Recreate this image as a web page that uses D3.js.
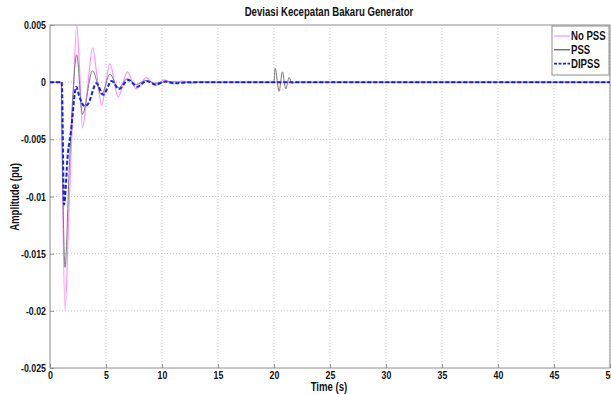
<!DOCTYPE html>
<html><head><meta charset="utf-8">
<script src="https://cdn.jsdelivr.net/npm/d3@7"></script>
<style>
html,body{margin:0;padding:0;background:#fff;}
svg{display:block;}
text{font-family:"Liberation Sans",Arial,sans-serif;font-weight:bold;fill:#111;}
</style></head>
<body><svg id="c" width="611" height="395"></svg>
<script>
const title = "Deviasi Kecepatan Bakaru Generator";
const xLabel = "Time (s)";
const yLabel = "Amplitude (pu)";
const xTicks = [0,5,10,15,20,25,30,35,40,45,50];
const yTicks = [0.005,0,-0.005,-0.01,-0.015,-0.02,-0.025];
const yTickLabels = ["0.005","0","-0.005","-0.01","-0.015","-0.02","-0.025"];
const seriesNames = ["No PSS","PSS","DIPSS"];

// No PSS (magenta)
const noPssT = [0,1.0,1.08,1.34,1.7,2.05,2.38,2.65,2.9,3.35,3.8,4.2,4.6,5.35,6.1,6.9,7.7,8.6,9.4,10.2,11.0,11.8,12.6,13.5,14.5,50];
const noPssV = [0,0,-0.006,-0.0200,-0.011,-0.002,0.0050,0.001,-0.0040,-0.0005,0.0030,0.0005,-0.0020,0.0016,-0.0013,0.0009,-0.0006,0.0004,-0.0003,0.0002,-0.00015,0.0001,-0.0001,0.00005,0,0];

// PSS (gray)
const pssT = [0,1.0,1.08,1.34,1.7,2.05,2.38,2.9,3.8,4.6,5.35,6.1,6.9,7.7,8.6,9.4,10.5,12,20.0,20.1,20.45,20.75,21.05,21.35,21.6,22,50];
const pssV = [0,0,-0.005,-0.0162,-0.008,-0.001,0.0024,-0.0028,0.0010,-0.0011,0.0007,-0.0005,0.0003,-0.0002,0.00015,-0.0001,0.00005,0,0,0.0012,-0.0008,0.0009,-0.0006,0.0004,-0.0001,0,0];

// DIPSS (blue dashed)
const dipssT = [0,1.05,1.25,1.6,1.85,2.35,2.6,3.1,3.4,4.15,4.75,5.5,6.15,7.0,7.8,8.6,9.4,10.3,11.2,12.5,50];
const dipssV = [0,0,-0.0107,-0.0062,-0.0045,-0.0004,-0.0012,-0.0021,-0.0019,-0.0001,-0.0011,0.0001,-0.0006,0.0002,-0.0004,0.0001,-0.0002,0.00005,-0.0001,0,0];

const svg = d3.select("#c");
const L = 50, R = 610, T = 25, B = 368;
const x = d3.scaleLinear().domain([0,50]).range([L,R]);
const y = d3.scaleLinear().domain([-0.025,0.005]).range([B,T]);

// grid
const g = svg.append("g");
g.selectAll(".gx").data(xTicks.slice(1)).join("line")
  .attr("x1",d=>x(d)).attr("x2",d=>x(d)).attr("y1",T).attr("y2",B)
  .attr("stroke","#c8c8c8").attr("stroke-width",1).attr("stroke-dasharray","1,2");
g.selectAll(".gy").data(yTicks.slice(1,-1)).join("line")
  .attr("y1",d=>y(d)).attr("y2",d=>y(d)).attr("x1",L).attr("x2",R)
  .attr("stroke","#c8c8c8").attr("stroke-width",1).attr("stroke-dasharray","1,2");

// frame
svg.append("rect").attr("x",L).attr("y",T).attr("width",R-L).attr("height",B-T)
  .attr("fill","none").attr("stroke","#8c8c8c").attr("stroke-width",1);

// axes
const xAxis = d3.axisBottom(x).tickValues(xTicks).tickSize(-4).tickPadding(3).tickFormat(d3.format("d"));
const ax = svg.append("g").attr("transform",`translate(0,${B})`).call(xAxis);
ax.select(".domain").remove();
ax.selectAll("line").attr("stroke","#8c8c8c");
ax.selectAll("text").attr("font-size",11).attr("fill","#111");

const yAxis = d3.axisLeft(y).tickValues(yTicks).tickSize(-4).tickPadding(4).tickFormat((d,i)=>yTickLabels[i]);
const ay = svg.append("g").attr("transform",`translate(${L},0)`).call(yAxis);
ay.select(".domain").remove();
ay.selectAll("line").attr("stroke","#8c8c8c");
ay.selectAll("text").attr("font-size",11).attr("fill","#111");
svg.selectAll(".tick text").attr("font-family",null);

// lines
const line = d3.line().x(d=>x(d[0])).y(d=>y(d[1])).curve(d3.curveMonotoneX);
svg.append("clipPath").attr("id","cp").append("rect").attr("x",L).attr("y",T-6).attr("width",R-L).attr("height",B-T+6);
const plot = svg.append("g").attr("clip-path","url(#cp)");
plot.append("path").datum(noPssT.map((t,i)=>[t,noPssV[i]])).attr("d",line)
  .attr("fill","none").attr("stroke","#ff90ff").attr("stroke-width",1.2);
plot.append("path").datum(pssT.map((t,i)=>[t,pssV[i]])).attr("d",line)
  .attr("fill","none").attr("stroke","#7a7a7a").attr("stroke-width",1);
plot.append("path").datum(dipssT.map((t,i)=>[t,dipssV[i]])).attr("d",line)
  .attr("fill","none").attr("stroke","#1020ff").attr("stroke-width",2).attr("stroke-dasharray","4,2");

// title & labels
svg.append("text").attr("x",329).attr("y",16).attr("text-anchor","middle").attr("font-size",12).text(title);
svg.append("text").attr("x",329).attr("y",391).attr("text-anchor","middle").attr("font-size",12).text(xLabel);
svg.append("text").attr("transform","translate(19,197) rotate(-90)").attr("text-anchor","middle").attr("font-size",12).text(yLabel);

// legend
const lg = svg.append("g");
lg.append("rect").attr("x",552).attr("y",26).attr("width",57).attr("height",49)
  .attr("fill","#fff").attr("stroke","#8c8c8c").attr("stroke-width",1);
const lcol = ["#ff90ff","#333","#1020ff"];
const ldash = [null,null,"3,1.5"];
const lw = [1.2,1,1.6];
seriesNames.forEach((n,i)=>{
  const yy = 36 + i*13.8;
  lg.append("line").attr("x1",554).attr("x2",570).attr("y1",yy).attr("y2",yy)
    .attr("stroke",lcol[i]).attr("stroke-width",lw[i]).attr("stroke-dasharray",ldash[i]);
  lg.append("text").attr("x",571).attr("y",yy+4).attr("font-size",12).text(n);
});

// condense all text horizontally to match the narrow reference typeface
svg.selectAll("text").each(function(){
  const w = this.getComputedTextLength();
  d3.select(this).attr("textLength", w*0.8).attr("lengthAdjust","spacingAndGlyphs");
});
</script></body></html>
